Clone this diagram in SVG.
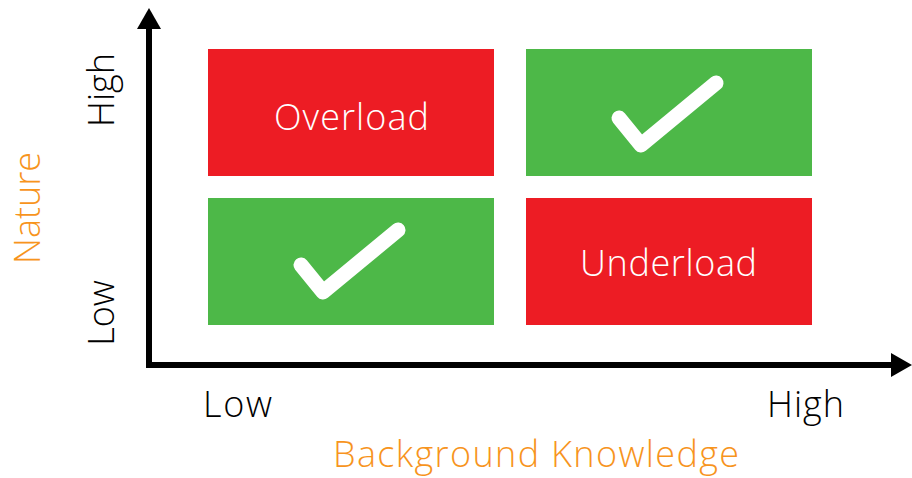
<svg xmlns="http://www.w3.org/2000/svg" width="912" height="478" viewBox="0 0 912 478">
<style>
.t{font-family:"Open Sans",Lato,"Liberation Sans",sans-serif;font-size:36px;font-weight:300}
.w{fill:#fff}
.k{fill:#000}
.o{fill:#F7941D}
.red{fill:#ED1C24}
.grn{fill:#4DB848}
.chk{fill:none;stroke:#fff;stroke-width:15;stroke-linecap:round;stroke-linejoin:round}
</style>
<rect width="912" height="478" fill="#fff"/>
<g id="axes">
<line x1="149" y1="365" x2="149" y2="26" stroke="#000" stroke-width="6"/>
<line x1="146" y1="365" x2="893" y2="365" stroke="#000" stroke-width="6"/>
<polygon points="149,8 137,29 161,29" fill="#000"/>
<polygon points="912,365 891,353 891,377" fill="#000"/>
</g>
<g id="overload"><rect class="red" x="208" y="49" width="286" height="127"/><text class="t w" x="274" y="130" textLength="155" lengthAdjust="spacing">Overload</text></g>
<g id="topright"><rect class="grn" x="526" y="49" width="286" height="127"/><polyline class="chk" points="619,118 641,145 716,83"/></g>
<g id="bottomleft"><rect class="grn" x="208" y="198" width="286" height="127"/><polyline class="chk" points="301,265 323,292 398,230"/></g>
<g id="underload"><rect class="red" x="526" y="198" width="286" height="127"/><text class="t w" x="580" y="276" textLength="177" lengthAdjust="spacing">Underload</text></g>
<g id="labels">
<text class="t k" transform="translate(114,90) rotate(-90)" text-anchor="middle">High</text>
<text class="t k" transform="translate(114,313) rotate(-90)" text-anchor="middle">Low</text>
<text class="t o" transform="translate(40,208) rotate(-90)" text-anchor="middle">Nature</text>
<text class="t k" x="203" y="417" textLength="69" lengthAdjust="spacing">Low</text>
<text class="t k" x="767" y="417" textLength="77" lengthAdjust="spacing">High</text>
<text class="t o" x="333" y="467" textLength="406" lengthAdjust="spacing">Background Knowledge</text>
</g>
</svg>
